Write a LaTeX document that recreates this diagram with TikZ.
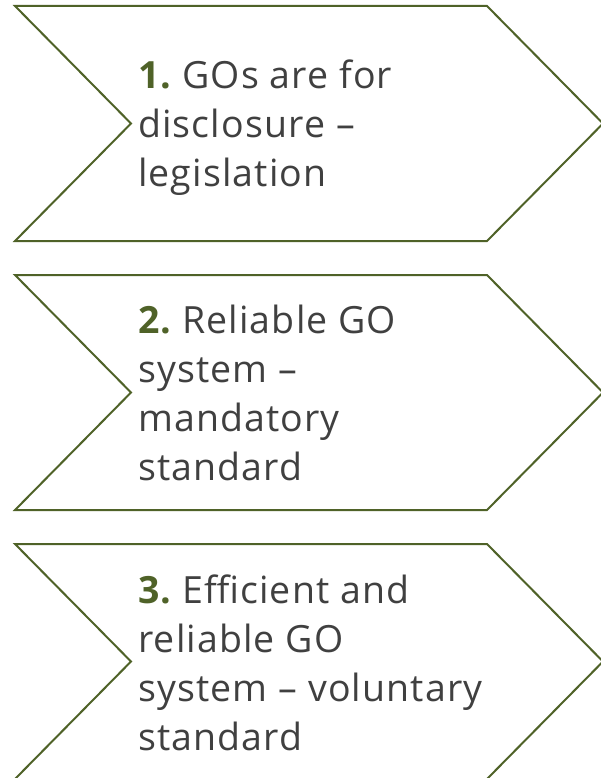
\documentclass[tikz,border=0pt]{standalone}
\usepackage{fontspec}
\setmainfont{Open Sans}[LetterSpace=3]
\usepackage{tikz}
\definecolor{goolive}{RGB}{79, 98, 40}
\definecolor{gotext}{RGB}{64, 64, 64}

\tikzset{
  chevron/.style={draw=goolive, line width=2pt, fill=white},
  chevtext/.style={anchor=west, align=left, inner sep=0pt, text=gotext,
    font=\fontsize{37.5}{49}\selectfont\frenchspacing},
}
\newcommand{\stepnum}[1]{{\bfseries\color{goolive}#1}}

\begin{document}
\begin{tikzpicture}[x=1pt, y=-1pt]
\useasboundingbox (0,0) rectangle (600,778);

% Step 1
\draw[chevron] (15,6) -- (487,6) -- (603,123.5) -- (487,241) -- (15,241) -- (131,123.5) -- cycle;
\node[chevtext] (t1) at (138,128) {\stepnum{1.} GOs are for\\disclosure --\\legislation};

% Step 2
\draw[chevron] (15,275) -- (487,275) -- (603,392.5) -- (487,510) -- (15,510) -- (131,392.5) -- cycle;
\node[chevtext] (t2) at (138,392.5) {\stepnum{2.} Reliable GO\\system --\\mandatory\\standard};

% Step 3
\draw[chevron] (15,544) -- (487,544) -- (603,661.5) -- (487,779) -- (15,779) -- (131,661.5) -- cycle;
\node[chevtext] (t3) at (138,662.5) {\stepnum{3.} Efficient and\\reliable GO\\system -- voluntary\\standard};
\end{tikzpicture}
\end{document}
